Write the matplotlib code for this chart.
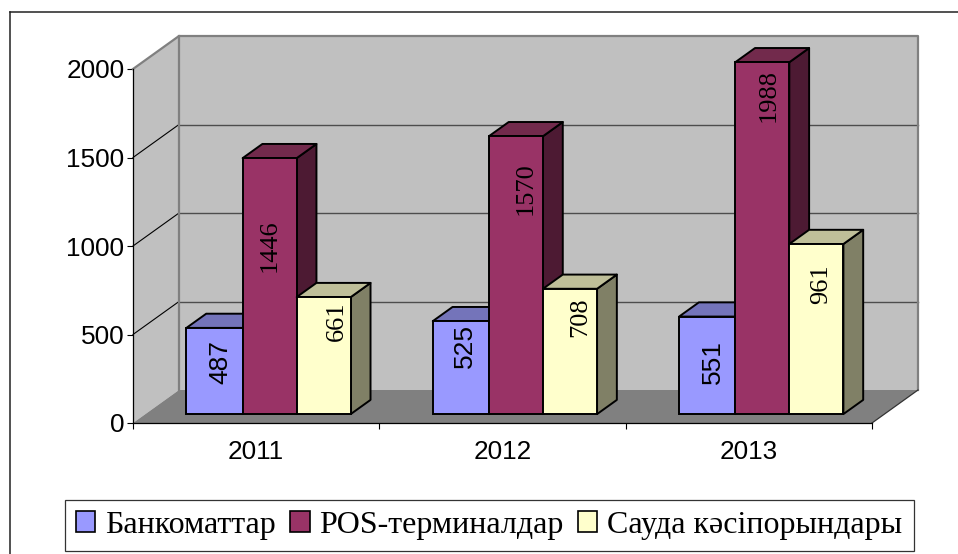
import matplotlib
matplotlib.use('Agg')
import matplotlib.pyplot as plt
from matplotlib.lines import Line2D
from matplotlib.patches import Patch, Polygon

years = ['2011', '2012', '2013']
series_names = ['Банкоматтар', 'POS-терминалдар', 'Сауда кәсіпорындары']
atms = [487, 525, 551]
pos_terminals = [1446, 1570, 1988]
merchants = [661, 708, 961]
y_ticks = [0, 500, 1000, 1500, 2000]

W, H = 958, 554
FONT_SANS = 'Liberation Sans'
FONT_SERIF = 'Liberation Serif'

# colours per series: front, top, side
styles = [
    ('#9999FF', '#7474BA', '#4D4D80'),
    ('#993366', '#722A4C', '#4D1A33'),
    ('#FFFFCC', '#BFBF99', '#808066'),
]

# label offsets from the top middle of the front face, in pixels
label_dx = [[6, 0, 13], [4, 10, 10], [6, 6, 5]]
label_dy = [[-34, -88, -24], [-25, -52, -28], [-45, -33, -40]]
label_font = [FONT_SANS, FONT_SERIF, FONT_SERIF]

fig = plt.figure(figsize=(W / 100, H / 100), dpi=100, facecolor='white')

# chart frame runs off the picture on the right and bottom
fig.add_artist(Line2D([9.5 / W, 9.5 / W], [0, 1 - 12 / H], color='#222222', lw=1.1))
fig.add_artist(Line2D([9.5 / W, 1], [1 - 12 / H, 1 - 12 / H], color='#222222', lw=1.1))

ax = fig.add_axes([133 / W, 1 - 423 / H, 739 / W, 354 / H])
ax.set_xlim(0, 3)
ax.set_ylim(0, 2000)
ax.patch.set_visible(False)

# depth of the 3d box, in data units
DX = 46 / (739 / 3)
DY = 33 / (354 / 2000)
top = y_ticks[-1]
right = len(years)

# walls and floor
ax.add_patch(Polygon([(DX, DY), (right + DX, DY), (right + DX, top + DY), (DX, top + DY)],
                     fc='#C0C0C0', ec='none', zorder=1, clip_on=False))
ax.add_patch(Polygon([(0, 0), (DX, DY), (DX, top + DY), (0, top)],
                     fc='#C0C0C0', ec='none', zorder=1, clip_on=False))
ax.add_patch(Polygon([(0, 0), (right, 0), (right + DX, DY), (DX, DY)],
                     fc='#808080', ec='none', zorder=1.5, clip_on=False))

# gridlines
for t in y_ticks[1:-1]:
    ax.plot([DX, right + DX], [t + DY, t + DY], color='#4D4D4D', lw=1.0, zorder=2, clip_on=False)
    ax.plot([0, DX], [t, t + DY], color='black', lw=0.8, zorder=2, clip_on=False)

# wall borders
ax.plot([0, DX, right + DX, right + DX], [top, top + DY, top + DY, DY],
        color='#808080', lw=1.6, zorder=3, clip_on=False)
ax.plot([DX, DX], [DY, top + DY], color='#808080', lw=1.6, zorder=3, clip_on=False)
ax.plot([right, right + DX], [0, DY], color='#333333', lw=0.9, zorder=3, clip_on=False)

# bars, the first one in each group comes out a little wider
BAR_W = [0.228, 0.2195, 0.2195]
BAR_D0 = 0.27  # how far back the front face sits
BAR_D1 = 0.70  # how far back the rear face sits
x0, y0 = BAR_D0 * DX, BAR_D0 * DY
x1, y1 = BAR_D1 * DX, BAR_D1 * DY
all_series = [atms, pos_terminals, merchants]
EDGE = 1.4

for g in range(len(years)):
    left = g + 0.5 - sum(BAR_W) / 2 + x0
    for s, values in enumerate(all_series):
        v = values[g]
        bw = BAR_W[s]
        fc, tc, sc = styles[s]
        z = 10 + g * 10 + s * 3
        ax.bar(left, v, width=bw, bottom=y0, align='edge', color=fc,
               edgecolor='black', linewidth=EDGE, zorder=z + 2, clip_on=False)
        ax.add_patch(Polygon([(left + bw, y0), (left + bw - x0 + x1, y1),
                              (left + bw - x0 + x1, v + y1), (left + bw, v + y0)],
                             fc=sc, ec='black', lw=EDGE, joinstyle='round', zorder=z, clip_on=False))
        ax.add_patch(Polygon([(left, v + y0), (left + bw, v + y0),
                              (left + bw - x0 + x1, v + y1), (left - x0 + x1, v + y1)],
                             fc=tc, ec='black', lw=EDGE, joinstyle='round', zorder=z + 1, clip_on=False))
        ax.annotate(str(v), xy=(left + bw / 2, v + y0),
                    xytext=(label_dx[g][s] * 0.72, label_dy[g][s] * 0.72), textcoords='offset points',
                    rotation=90, ha='center', va='center', fontsize=19,
                    family=label_font[s], color='black', zorder=60, annotation_clip=False)
        left += bw

# axes
for side in ['top', 'right']:
    ax.spines[side].set_visible(False)
for side in ['left', 'bottom']:
    ax.spines[side].set_linewidth(0.9)
    ax.spines[side].set_color('black')
    ax.spines[side].set_zorder(5)
ax.set_yticks(y_ticks)
ax.set_yticklabels([str(t) for t in y_ticks], family=FONT_SANS, fontsize=18.8)
ax.tick_params(axis='y', length=4.3, width=0.8, pad=2)
ax.set_xticks(range(len(years) + 1))
ax.set_xticklabels([])
ax.tick_params(axis='x', which='major', length=4.3, width=0.8)
ax.set_xticks([i + 0.5 for i in range(len(years))], minor=True)
ax.set_xticklabels(years, minor=True, family=FONT_SANS, fontsize=18.8)
ax.tick_params(axis='x', which='minor', length=0, pad=12.5)

# legend
handles = [Patch(facecolor=st[0], edgecolor='black', linewidth=1.2) for st in styles]
leg = fig.legend(handles, series_names, ncol=3, loc='lower left',
                 bbox_to_anchor=(65 / W, 1 - 551 / H), borderaxespad=0, fancybox=False,
                 prop={'family': FONT_SERIF, 'size': 23}, handlelength=0.6, handleheight=0.6,
                 handletextpad=0.31, columnspacing=0.45, borderpad=0.35, framealpha=1)
leg.get_frame().set_edgecolor('#333333')
leg.get_frame().set_linewidth(0.9)

fig.savefig('out.png', dpi=100)
